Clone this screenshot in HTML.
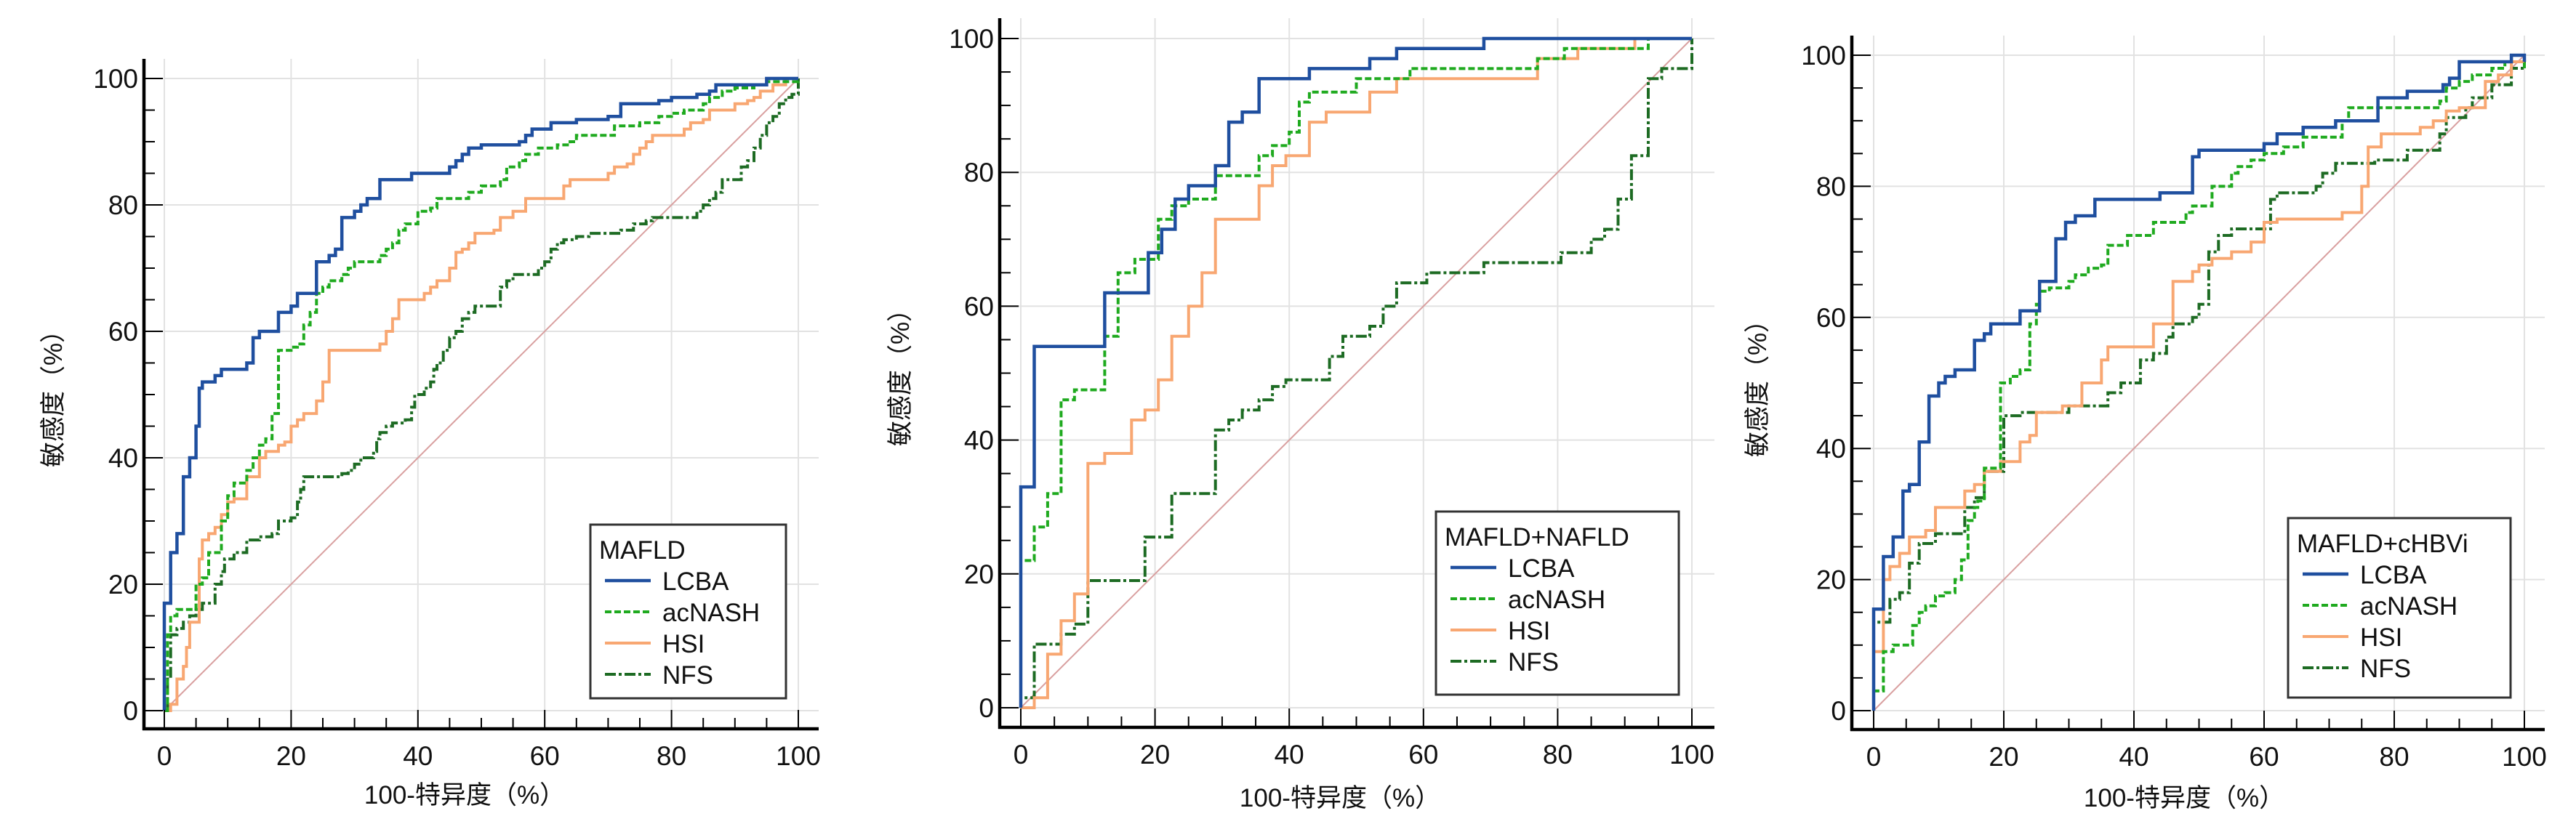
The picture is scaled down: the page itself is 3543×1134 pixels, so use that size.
<!DOCTYPE html>
<html><head><meta charset="utf-8"><style>
html,body{margin:0;padding:0;background:#fff;}
svg text{font-family:"Liberation Sans","Noto Sans CJK SC",sans-serif;fill:#111;}
</style></head><body>
<svg id="s" width="3543" height="1129" viewBox="0 0 3543 1129" xmlns="http://www.w3.org/2000/svg"></svg>
<script>
const S=document.getElementById('s');let h='';
const panels=[
{x0:226,x1:1098,y0:978,y1:108,sl:198,sb:1003,st:81,sr:1126,leg:[812,722,1081,961],title:'MAFLD',yl:[73,540],xl:[639,1094],
data:{
L:[[0,0],[0,17],[1,25],[2,28],[3,29],[3,37],[4,40],[5,45],[5.5,51],[6,52],[8,53],[9,54],[13,55],[14,59],[15,60],[18,63],[20,64],[21,66],[24,71],[26,72],[27,73],[28,76],[28,78],[30,79],[31,80],[32,81],[34,82],[34,84],[36,84],[39,85],[45,86],[46,87],[47,88],[48,89],[50,89.5],[56,90],[57,91],[58,92],[61,93],[65,93.5],[70,94],[72,96],[75,96],[78,96.5],[80,97],[84,97.5],[86,98],[87,99],[95,99.5],[95,100],[100,100]],
A:[[0,0],[0.5,12],[1,15],[2,16],[5,20],[6,21],[7,25],[9,30],[10,34],[11,36],[13,38],[14,40],[15,42],[16,43],[17,47],[18,48],[18,57],[20,57.5],[21,58],[22,61],[23,63],[24,66],[25,67],[26,68],[28,69],[29,70],[30,71],[34,72],[35,73],[36,74],[37,76],[38,77],[40,79],[42,79.5],[43,81],[48,82],[50,83],[53,84],[54,86],[56,87],[57,88],[59,89],[62,89.5],[64,90],[65,91],[71,92.5],[75,93],[78,94],[80,94.5],[82,95],[85,96],[86,97],[88,98],[90,98.5],[93,99],[95,99.5],[100,100]],
H:[[0,0],[1,1],[2,5],[3,7],[3.5,10],[4,14],[5.5,24],[6,27],[7,28],[8,29],[9,31],[10,33],[11,33.5],[13,37],[15,40],[16,41],[18,42],[19,42.5],[20,45],[21,46],[22,47],[24,49],[25,52],[26,53],[26,57],[31,57],[34,58],[35,60],[36,62],[37,63],[37,65],[40,65],[41,66],[42,67],[43,68],[45,70],[46,72.5],[47,73],[48,74],[49,75.5],[52,76],[53,78],[55,79],[57,81],[62,81],[63,83],[64,84],[70,85],[71,86],[73,86.5],[74,88],[75,89],[76,90],[77,91],[82,92],[83,93],[85,93.5],[86,95],[90,96],[92,96.5],[93,97],[94,98],[96,99],[98,100],[100,100]],
N:[[0,0],[0.5,5],[1,12],[2,13],[3,14],[4,15],[5,16],[6,17],[8,20],[9,22],[9.5,24],[11,25],[13,27],[15,27.5],[17,28],[18,30],[20,30.5],[21,33],[21.5,35],[22,37],[28,37.5],[29,38],[30,39],[31,40],[33,41],[33.5,43],[34,44],[35,45],[36,45.5],[38,46],[39,48],[39.5,50],[41,51],[42,52],[42.5,54],[43,55],[44,57],[45,59],[46,60],[47,62],[48,63],[49,64],[53,67],[54,68],[55,69],[59,70],[60,71],[61,73],[62,74],[63,74.5],[65,75],[67,75.5],[72,76],[74,77],[76,77.5],[77,78],[84,79],[85,80],[86,81],[87,82],[88,84],[91,86],[92,87],[93,89],[94,91],[95,93],[96,94],[97,96],[98,97],[99,97.5],[100,98],[100,100]]}},
{x0:1404,x1:2327,y0:974,y1:53,sl:1375,sb:1001,st:25,sr:2358,leg:[1975,704,2309,956],title:'MAFLD+NAFLD',yl:[1238,511],xl:[1843,1098],
data:{
L:[[0,0],[0,33],[2,54],[12.5,62],[19,68],[21,71.5],[23,76],[25,78],[29,81],[31,87.5],[33,89],[35.5,94],[43,95.5],[52,97],[56,98.5],[69,100],[100,100]],
A:[[0,0],[0,22],[2,27],[4,32],[6,46],[8,47.5],[12.5,55.5],[14.5,65],[17,67],[20.5,73],[22.5,75],[25,76],[29,79.5],[35.5,82.5],[37.5,84],[40,86],[41.5,90.5],[43,92],[50,94],[58,95.5],[77,97],[81,98.5],[93.5,100],[100,100]],
H:[[0,0],[2,1.5],[4,8],[6,13],[8,17],[10,36.5],[12.5,38],[16.5,43],[18.5,44.5],[20.5,49],[22.5,55.5],[25,60],[27,65],[29,73],[35.5,78],[37.5,81],[39.5,82.5],[43,87.5],[45.5,89],[52,92],[56,94],[77,97],[83,98.5],[91.5,100],[100,100]],
N:[[0,0],[0,1.5],[2,9.5],[6,11],[8,12.5],[10,19],[18.5,25.5],[22.5,32],[29,41.5],[31,43],[33,44.5],[35.5,46],[37.5,48],[39.5,49],[46,52.5],[48,55.5],[52,57],[54,60],[56,63.5],[60.5,65],[69,66.5],[80.5,68],[85,70],[87,71.5],[89,76],[91,82.5],[93.5,94],[95.5,95.5],[100,95.5],[100,100]]}},
{x0:2577,x1:3472,y0:978,y1:76,sl:2547,sb:1004,st:49,sr:3500,leg:[3147,713,3453,960],title:'MAFLD+cHBVi',yl:[2417,526],xl:[3004,1098],
data:{
L:[[0,0],[0,15.5],[1.5,23.5],[3,26.5],[4.5,33.5],[5.5,34.5],[7,41],[8.5,48],[10,50],[11,51],[12.5,52],[15.5,56.5],[17,57.5],[18,59],[22.5,61],[25.5,65.5],[28,72],[29.5,74.5],[31,75.5],[34,78],[44,79],[49,84.5],[50,85.5],[60,86.5],[62,88],[66,89],[71,90],[77.5,93.5],[82,94.5],[87.5,95.5],[88.5,96.5],[90,99],[98,100],[100,100],[100,99]],
A:[[0,0],[0,3],[1.5,9],[3,10],[6,13],[7,15],[8,16],[9.5,17.5],[11,18],[12.5,20],[13.5,23],[14.5,29],[15.5,31],[16,32],[17,37],[19.5,38],[19.5,50],[21,51],[22.5,52],[24,59],[25,62],[25.5,64],[27,64.5],[30,65.5],[31,66.5],[33,67.5],[35,68],[36,71],[39,72.5],[43,74.5],[48,76],[49,77],[52,80],[55,82],[56,83],[58,84],[60,85],[63,86],[66,87.5],[72,90],[73,92],[87,93],[88,95],[90,96],[92,97],[95,98],[97,99],[98,100],[100,100],[100,98]],
H:[[0,0],[0,9],[1.5,20],[2.5,22],[4,24],[5.5,26.5],[8,27.5],[9.5,31],[14,33.5],[15.5,34.5],[17,36.5],[19.5,38],[22.5,41],[24,42],[25,45.5],[29,46.5],[32,50],[35,53.5],[36,55.5],[43,59],[46,65.5],[49,67],[50,68],[52,69],[55,70],[58,71.5],[60,74.5],[62,75],[72,76],[75,80],[76,86],[78,88],[84,89],[86,90],[88,91.5],[90,92],[94,96],[96,97],[98,99],[100,99]],
N:[[0,0],[0,13.5],[2.5,17],[4,18],[5.5,22.5],[7,25.5],[9.5,27],[14,31],[15.5,32.5],[17,36.5],[20,45],[22.5,45.5],[26,45.5],[30,46.5],[36,48.5],[38,50],[41,53.5],[43,54.5],[45,57],[46,59],[49,60],[50,62],[51.5,70],[53,72.5],[55,73.5],[61,78],[62,79],[68,80],[69,82],[71,83.5],[77,84],[82,85.5],[87,88],[88,90.5],[91,92],[92,93.5],[95,95.5],[98,98],[100,98],[100,100]]}}
];
const st={L:'stroke="#1f4f9f" stroke-width="4.5"',A:'stroke="#1faa1f" stroke-width="4" stroke-dasharray="9 4"',H:'stroke="#f8a772" stroke-width="4"',N:'stroke="#1d6b23" stroke-width="4" stroke-dasharray="15 4 4 4"'};
const names={L:'LCBA',A:'acNASH',H:'HSI',N:'NFS'};
for(const p of panels){
 const X=v=>p.x0+(p.x1-p.x0)*v/100, Y=v=>p.y0+(p.y1-p.y0)*v/100;
 for(let v=0;v<=100;v+=20){
  h+=`<line x1="${X(v)}" y1="${p.st}" x2="${X(v)}" y2="${p.sb}" stroke="#e2e2e2" stroke-width="2"/>`;
  h+=`<line x1="${p.sl}" y1="${Y(v)}" x2="${p.sr}" y2="${Y(v)}" stroke="#e2e2e2" stroke-width="2"/>`;
 }
 h+=`<line x1="${X(0)}" y1="${Y(0)}" x2="${X(100)}" y2="${Y(100)}" stroke="#d9a0a0" stroke-width="2"/>`;
 for(const k of ['N','H','A','L']){
  const d=p.data[k];let s=`M${X(d[0][0]).toFixed(1)},${Y(d[0][1]).toFixed(1)}`;
  for(let i=1;i<d.length;i++){s+=`H${X(d[i][0]).toFixed(1)}V${Y(d[i][1]).toFixed(1)}`;}
  h+=`<path d="${s}" fill="none" ${st[k]}/>`;
 }
 h+=`<line x1="${p.sl}" y1="${p.st}" x2="${p.sl}" y2="${p.sb+2}" stroke="#000" stroke-width="4.5"/>`;
 h+=`<line x1="${p.sl-2}" y1="${p.sb}" x2="${p.sr}" y2="${p.sb}" stroke="#000" stroke-width="4.5"/>`;
 for(let v=0;v<=100;v+=5){
  const m=v%20==0, L=m?26:15;
  h+=`<line x1="${p.sl}" y1="${Y(v)}" x2="${p.sl+L}" y2="${Y(v)}" stroke="#000" stroke-width="2"/>`;
  h+=`<line x1="${X(v)}" y1="${p.sb}" x2="${X(v)}" y2="${p.sb-L}" stroke="#000" stroke-width="2"/>`;
  if(m){
   h+=`<text x="${p.sl-8}" y="${Y(v)+13}" font-size="37" text-anchor="end">${v}</text>`;
   h+=`<text x="${X(v)}" y="${p.sb+50}" font-size="37" text-anchor="middle">${v}</text>`;
  }
 }
 h+=`<text x="${p.xl[0]}" y="${p.xl[1]+12}" font-size="35" text-anchor="middle">100-特异度（%）</text>`;
 h+=`<text transform="translate(${p.yl[0]+12},${p.yl[1]}) rotate(-90)" font-size="35" text-anchor="middle">敏感度（%）</text>`;
 const [lx,ly,lr,lb]=p.leg;
 h+=`<rect x="${lx}" y="${ly}" width="${lr-lx}" height="${lb-ly}" fill="#fff" stroke="#333" stroke-width="3"/>`;
 h+=`<text x="${lx+12}" y="${ly+47}" font-size="35">${p.title}</text>`;
 ['L','A','H','N'].forEach((k,i)=>{
  const yy=ly+77+43*i;
  h+=`<line x1="${lx+20}" y1="${yy}" x2="${lx+83}" y2="${yy}" ${st[k]}/>`;
  h+=`<text x="${lx+99}" y="${yy+13}" font-size="35">${names[k]}</text>`;
 });
}
S.innerHTML=h;
</script>
</body></html>
